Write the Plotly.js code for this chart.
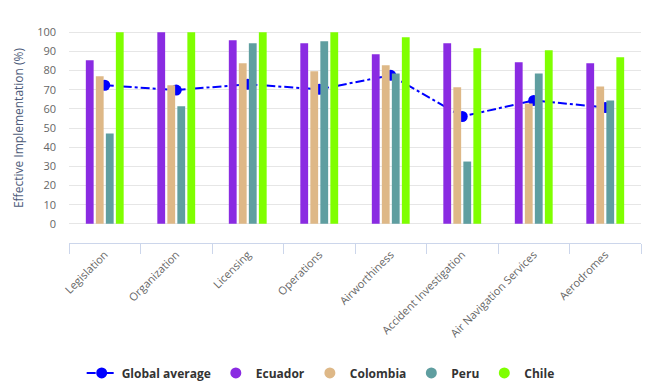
<!DOCTYPE html>
<html>
<head>
<meta charset="utf-8">
<script src="https://cdn.plot.ly/plotly-3.0.1.min.js"></script>
<style>html,body{margin:0;padding:0;background:#fff;}#chart{width:659px;height:388px;}</style>
</head>
<body>
<div id="chart"></div>
<script>
const categories = ["Legislation","Organization","Licensing","Operations","Airworthiness","Accident Investigation","Air Navigation Services","Aerodromes"];
const globalAverage = [72.3, 69.8, 72.8, 70.2, 77.5, 56.0, 64.4, 60.7];
const ecuador  = [85.3, 100, 95.8, 94.2, 88.5, 94.2, 84.3, 83.8];
const colombia = [77.0, 72.3, 83.8, 79.6, 82.7, 71.2, 62.8, 71.7];
const peru     = [47.1, 61.3, 94.2, 95.3, 78.5, 32.5, 78.5, 64.4];
const chile    = [100, 100, 100, 100, 97.4, 91.6, 90.6, 86.9];
const yTickVals = [0,10,20,30,40,50,60,70,80,90,100,110];
const yTickText = ["0","10","20","30","40","50","60","70","80","90","100",""];

const seriesNames = ["Ecuador","Colombia","Peru","Chile"];
const seriesData = [ecuador, colombia, peru, chile];
const seriesColors = ["#8a2be2","#deb887","#5f9ea0","#7fff00"];

const traces = [];
traces.push({
  type:"scatter", mode:"lines+markers", name:"Global average",
  x:categories, y:globalAverage, xaxis:"x", yaxis:"y",
  line:{color:"#0000ff", width:2, dash:"dashdot"},
  marker:{color:"#0000ff", size:11, symbol:"circle"},
  hoverinfo:"skip"
});
seriesNames.forEach((n,i)=>{
  traces.push({
    type:"bar", name:n, x:categories, y:seriesData[i], xaxis:"x2", yaxis:"y2",
    marker:{color:seriesColors[i]}, showlegend:false, hoverinfo:"skip"
  });
});
seriesNames.forEach((n,i)=>{
  traces.push({
    type:"scatter", mode:"markers", name:n, x:[null], y:[null], xaxis:"x", yaxis:"y",
    marker:{color:seriesColors[i], size:11, symbol:"circle"}, showlegend:true
  });
});

const font = "'Open Sans', 'Noto Sans', 'DejaVu Sans', sans-serif";
const yAxisCommon = {
  range:[-10,110], tickvals:yTickVals, ticktext:yTickText,
  showgrid:true, gridcolor:"#e6e6e6", gridwidth:1, zeroline:false,
  tickfont:{size:11, color:"#666666", family:font}, ticks:"", showline:false,
  fixedrange:true, automargin:false
};
const layout = {
  width:659, height:388,
  margin:{l:69, r:18, t:13, b:145, autoexpand:false},
  paper_bgcolor:"#ffffff", plot_bgcolor:"rgba(0,0,0,0)",
  font:{family:font, color:"#666666"},
  barmode:"group", bargap:0.44, bargroupgap:0.22,
  showlegend:true,
  legend:{orientation:"h", x:0.44, xanchor:"center", y:-0.565, yanchor:"middle",
          font:{size:12, color:"#333333", family:font, weight:"bold"},
          itemwidth:30, traceorder:"normal"},
  xaxis:{type:"category", categoryorder:"array", categoryarray:categories,
         range:[-0.5,7.5], tickangle:-45, tickfont:{size:11, color:"#666666", family:font},
         showline:true, linecolor:"#ccd6eb", linewidth:1, ticks:"outside", tickson:"boundaries",
         ticklen:10, tickcolor:"#ccd6eb", showgrid:false, zeroline:false, fixedrange:true, automargin:false},
  yaxis:Object.assign({}, yAxisCommon, {ticklabelstandoff:12,
         title:{text:"Effective Implementation (%)", font:{size:12, color:"#4d5b7a", family:font}, standoff:10}}),
  xaxis2:{type:"category", categoryorder:"array", categoryarray:categories, range:[-0.5,7.5],
          overlaying:"x", showticklabels:false, showgrid:false, showline:false, zeroline:false, ticks:"", fixedrange:true, automargin:false},
  yaxis2:Object.assign({}, yAxisCommon, {overlaying:"y", showgrid:false, showticklabels:false})
};
Plotly.newPlot("chart", traces, layout, {displayModeBar:false, staticPlot:true});
</script>
</body>
</html>
